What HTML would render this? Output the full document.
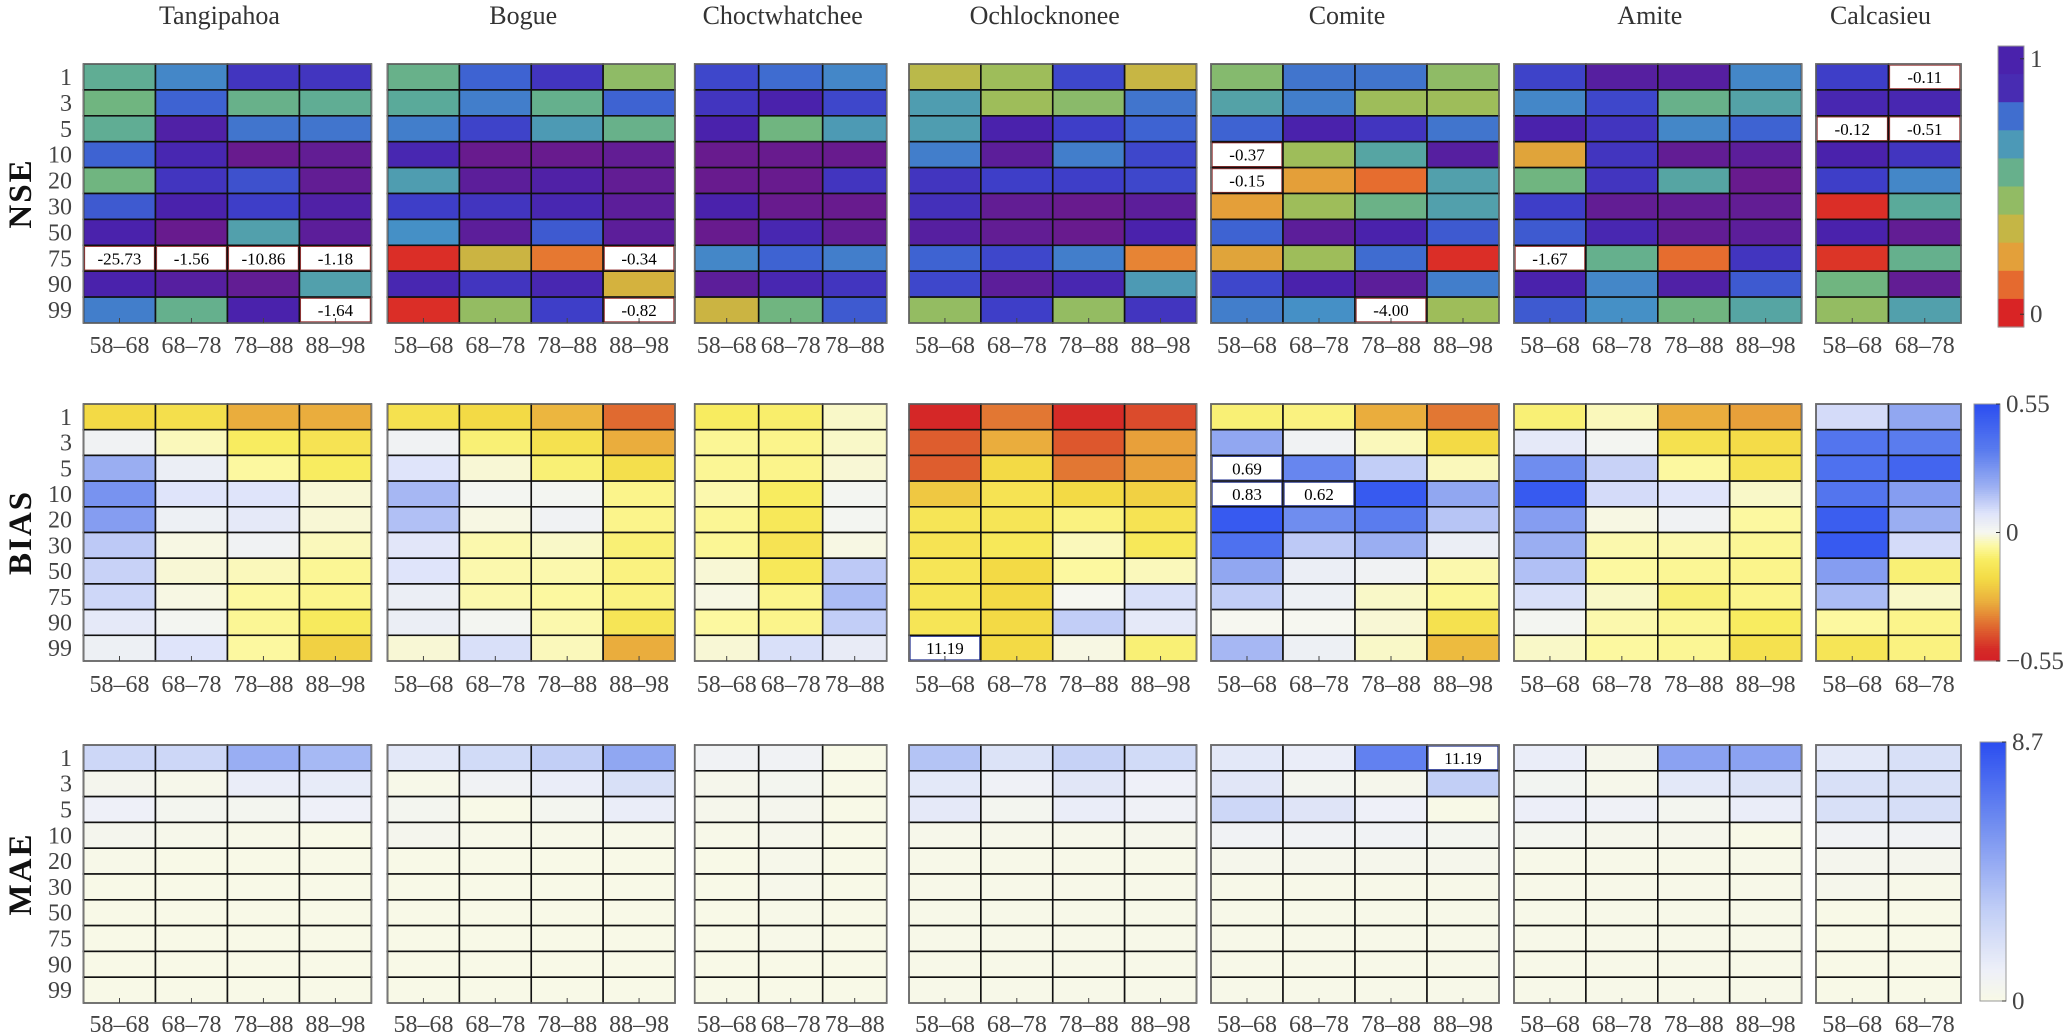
<!DOCTYPE html>
<html><head><meta charset="utf-8"><style>
html,body{margin:0;padding:0;background:#fff;}
svg{display:block;font-family:"Liberation Serif","DejaVu Serif",serif;}
svg text{font-family:"Liberation Serif","DejaVu Serif",serif;}
</style></head><body>
<svg id="chart" width="2067" height="1033" viewBox="0 0 2067 1033" xmlns="http://www.w3.org/2000/svg" font-family="Liberation Serif, DejaVu Serif, serif"></svg>
<script>
const rowLabels = ["1","3","5","10","20","30","50","75","90","99"];
const periods = ["58–68","68–78","78–88","88–98"];
const basins = ["Tangipahoa","Bogue","Choctwhatchee","Ochlocknonee","Comite","Amite","Calcasieu"];
const basinCols = [4,4,3,4,4,4,2];

const nseTangipahoa = [[0.58,0.72,0.9,0.9],[0.52,0.8,0.55,0.58],[0.58,0.95,0.76,0.76],[0.8,0.93,0.99,0.98],[0.52,0.9,0.84,0.98],[0.82,0.94,0.88,0.95],[0.94,0.99,0.64,0.97],[-25.73,-1.56,-10.86,-1.18],[0.94,0.96,0.98,0.64],[0.74,0.56,0.94,-1.64]];
const nseBogue = [[0.55,0.8,0.9,0.45],[0.6,0.74,0.56,0.8],[0.74,0.87,0.66,0.55],[0.93,0.99,0.99,0.98],[0.65,0.97,0.95,0.98],[0.88,0.9,0.93,0.97],[0.7,0.97,0.82,0.97],[0.02,0.32,0.14,-0.34],[0.93,0.9,0.93,0.3],[0.02,0.44,0.88,-0.82]];
const nseChoctwhatchee = [[0.86,0.78,0.72],[0.9,0.94,0.86],[0.94,0.52,0.66],[0.99,0.99,0.99],[0.99,0.99,0.9],[0.94,0.99,0.99],[0.99,0.93,0.98],[0.72,0.8,0.74],[0.97,0.93,0.9],[0.32,0.52,0.82]];
const nseOchlocknonee = [[0.36,0.42,0.86,0.33],[0.65,0.42,0.46,0.76],[0.65,0.94,0.88,0.8],[0.74,0.97,0.74,0.86],[0.9,0.88,0.88,0.86],[0.91,0.98,0.99,0.97],[0.96,0.98,0.99,0.94],[0.8,0.86,0.74,0.16],[0.86,0.97,0.93,0.66],[0.44,0.88,0.44,0.9]];
const nseComite = [[0.47,0.76,0.76,0.45],[0.63,0.74,0.42,0.42],[0.8,0.94,0.9,0.76],[-0.37,0.42,0.62,0.96],[-0.15,0.22,0.12,0.64],[0.22,0.42,0.54,0.64],[0.8,0.97,0.94,0.82],[0.24,0.42,0.78,0.02],[0.86,0.94,0.97,0.74],[0.74,0.7,-4.00,0.42]];
const nseAmite = [[0.87,0.96,0.96,0.72],[0.72,0.86,0.55,0.63],[0.94,0.9,0.72,0.8],[0.24,0.9,0.98,0.97],[0.52,0.9,0.62,0.99],[0.88,0.98,0.98,0.98],[0.82,0.93,0.98,0.97],[-1.67,0.56,0.12,0.9],[0.94,0.72,0.95,0.82],[0.82,0.7,0.52,0.62]];
const nseCalcasieu = [[0.88,-0.11],[0.93,0.93],[-0.12,-0.51],[0.94,0.9],[0.88,0.72],[0.02,0.6],[0.94,0.98],[0.03,0.56],[0.52,0.98],[0.44,0.64]];

const biasTangipahoa = [[-0.2,-0.18,-0.3,-0.3],[0.02,-0.04,-0.12,-0.16],[0.2,0.04,-0.06,-0.12],[0.28,0.08,0.08,-0.02],[0.25,0.03,0.06,-0.02],[0.14,-0.01,0.02,-0.04],[0.12,-0.02,-0.04,-0.07],[0.11,-0.01,-0.06,-0.08],[0.06,0.01,-0.07,-0.13],[0.03,0.08,-0.06,-0.22]];
const biasBogue = [[-0.17,-0.2,-0.28,-0.4],[0.02,-0.1,-0.17,-0.3],[0.08,-0.02,-0.1,-0.18],[0.18,0.01,0.01,-0.08],[0.16,-0.01,0.02,-0.08],[0.07,-0.05,-0.03,-0.1],[0.08,-0.05,-0.05,-0.09],[0.04,-0.05,-0.06,-0.09],[0.04,0.01,-0.05,-0.15],[-0.02,0.09,-0.04,-0.3]];
const biasChoctwhatchee = [[-0.12,-0.11,-0.03],[-0.07,-0.08,-0.03],[-0.07,-0.08,-0.02],[-0.05,-0.12,0.01],[-0.07,-0.14,0.01],[-0.07,-0.16,-0.01],[-0.02,-0.14,0.14],[-0.01,-0.08,0.17],[-0.06,-0.08,0.13],[-0.02,0.09,0.05]];
const biasOchlocknonee = [[-0.52,-0.38,-0.5,-0.45],[-0.42,-0.3,-0.43,-0.32],[-0.42,-0.2,-0.38,-0.32],[-0.24,-0.16,-0.2,-0.22],[-0.15,-0.15,-0.09,-0.16],[-0.16,-0.14,-0.04,-0.14],[-0.15,-0.2,-0.06,-0.04],[-0.15,-0.2,0.0,0.09],[-0.15,-0.2,0.13,0.06],[11.19,-0.2,-0.01,-0.1]];
const biasComite = [[-0.1,-0.09,-0.3,-0.38],[0.22,0.02,-0.04,-0.2],[0.69,0.32,0.13,-0.04],[0.83,0.62,0.5,0.22],[0.5,0.3,0.35,0.15],[0.4,0.14,0.2,0.04],[0.22,0.04,0.02,-0.05],[0.13,0.03,-0.03,-0.07],[0.0,0.0,-0.02,-0.17],[0.18,0.03,-0.03,-0.27]];
const biasAmite = [[-0.1,-0.04,-0.3,-0.32],[0.06,0.01,-0.17,-0.19],[0.3,0.12,-0.06,-0.16],[0.5,0.1,0.08,-0.03],[0.25,-0.01,0.02,-0.06],[0.2,-0.05,-0.05,-0.07],[0.16,-0.06,-0.07,-0.08],[0.09,-0.03,-0.1,-0.08],[0.01,-0.05,-0.07,-0.12],[-0.03,-0.06,-0.07,-0.17]];
const biasCalcasieu = [[0.1,0.22],[0.38,0.35],[0.4,0.45],[0.38,0.25],[0.48,0.2],[0.5,0.1],[0.25,-0.1],[0.17,-0.03],[-0.06,-0.08],[-0.15,-0.09]];

const maeTangipahoa = [[2.5,2.5,4.5,4],[0.4,0.2,1.2,1.3],[1,0.5,0.5,1],[0.4,0.2,0.1,0.05],[0.1,0.05,0.05,0.05],[0.05,0.05,0.05,0.05],[0.05,0.05,0.05,0.05],[0.05,0.05,0.05,0.05],[0.05,0.05,0.05,0.05],[0.05,0.05,0.05,0.05]];
const maeBogue = [[1.5,2.3,3,4.8],[0.1,0.8,1.2,2],[0.5,0.05,0.5,1.2],[0.4,0.1,0.1,0.1],[0.05,0.05,0.05,0.05],[0.05,0.05,0.05,0.05],[0.05,0.05,0.05,0.05],[0.05,0.05,0.05,0.05],[0.05,0.05,0.05,0.05],[0.05,0.05,0.05,0.05]];
const maeChoctwhatchee = [[0.8,0.8,0.05],[0.3,0.5,0.05],[0.3,0.4,0.05],[0.1,0.3,0.05],[0.05,0.2,0.05],[0.05,0.2,0.05],[0.05,0.1,0.05],[0.05,0.1,0.05],[0.05,0.05,0.05],[0.05,0.05,0.05]];
const maeOchlocknonee = [[3.5,1.8,2.8,2.3],[1.5,0.9,1.6,1],[1.4,0.5,1.2,0.9],[0.2,0.2,0.2,0.3],[0.1,0.1,0.1,0.1],[0.1,0.1,0.1,0.1],[0.1,0.1,0.1,0.1],[0.1,0.1,0.1,0.1],[0.1,0.1,0.1,0.1],[0.1,0.1,0.1,0.1]];
const maeComite = [[1.5,1.2,6.5,11.19],[1.6,0.5,0.3,3],[2.5,1.7,1,0.05],[0.8,0.8,0.8,0.5],[0.3,0.3,0.3,0.3],[0.1,0.1,0.1,0.1],[0.1,0.1,0.1,0.1],[0.1,0.1,0.1,0.1],[0.1,0.1,0.1,0.1],[0.1,0.1,0.1,0.1]];
const maeAmite = [[1.2,0.3,5,5],[0.6,0.2,1.5,1.8],[1.1,0.9,0.5,1.2],[0.5,0.3,0.3,0.05],[0.1,0.1,0.1,0.1],[0.1,0.1,0.1,0.1],[0.1,0.1,0.1,0.1],[0.1,0.1,0.1,0.1],[0.1,0.1,0.1,0.1],[0.1,0.1,0.1,0.1]];
const maeCalcasieu = [[1.5,2],[2,2],[2,2.1],[0.8,0.8],[0.4,0.4],[0.3,0.1],[0.05,0.05],[0.05,0.05],[0.05,0.05],[0.05,0.05]];

const nseTicks = ["1","0"];
const biasTicks = ["0.55","0","−0.55"];
const maeTicks = ["8.7","0"];

const NS = "http://www.w3.org/2000/svg";
const FONT = "Liberation Serif, DejaVu Serif, serif";
const svg = document.getElementById("chart");
function mk(tag, attrs, parent){
  const e = document.createElementNS(NS, tag);
  for (const k in attrs) e.setAttribute(k, attrs[k]);
  if (tag === "text") e.setAttribute("font-family", FONT);
  (parent||svg).appendChild(e);
  return e;
}
function hex(c){return [parseInt(c.slice(1,3),16),parseInt(c.slice(3,5),16),parseInt(c.slice(5,7),16)];}
function interp(stops, v){
  if (v <= stops[0][0]) return stops[0][1];
  if (v >= stops[stops.length-1][0]) return stops[stops.length-1][1];
  for (let i=0;i<stops.length-1;i++){
    const a=stops[i], b=stops[i+1];
    if (v>=a[0] && v<=b[0]){
      const t=(v-a[0])/(b[0]-a[0]||1), ca=hex(a[1]), cb=hex(b[1]);
      return "rgb("+ca.map((x,j)=>Math.round(x+(cb[j]-x)*t)).join(",")+")";
    }
  }
}
const nseStops = [[0,"#d82125"],[0.1,"#e5622d"],[0.2,"#e89a38"],[0.3,"#d4b23e"],[0.4,"#a8be52"],[0.5,"#76b87a"],[0.6,"#5aaa9a"],[0.7,"#4590c6"],[0.8,"#3e63d2"],[0.88,"#3e3ec8"],[0.94,"#4a22ac"],[1.0,"#6e1a88"]];
const biasStops = [[-0.55,"#d42027"],[-0.5,"#d52b27"],[-0.4,"#e06a30"],[-0.3,"#eaad3d"],[-0.2,"#f3da45"],[-0.12,"#f8ec60"],[-0.06,"#fcf8a0"],[0,"#f6f7f0"],[0.08,"#dfe4fa"],[0.2,"#9aaef2"],[0.35,"#5a7cee"],[0.55,"#2b4ef0"]];
const maeStops = [[0,"#f8f9e6"],[1,"#eef0f8"],[3,"#c2cff6"],[6,"#6f8cf0"],[8.7,"#2b4ef0"]];

const panelX = [[83.5,371.4],[387.5,675],[694.7,886.7],[909,1196.5],[1211,1499],[1514,1801.6],[1816,1961]];
const metrics = [
  {key:"nse", title:"NSE", top:64, bot:323, tickY:345, stops:nseStops, lo:0, hi:1, data:[nseTangipahoa,nseBogue,nseChoctwhatchee,nseOchlocknonee,nseComite,nseAmite,nseCalcasieu], outBorder:"#8b1a1a"},
  {key:"bias", title:"BIAS", top:404, bot:661, tickY:684, stops:biasStops, lo:-0.55, hi:0.55, data:[biasTangipahoa,biasBogue,biasChoctwhatchee,biasOchlocknonee,biasComite,biasAmite,biasCalcasieu], outBorder:"#1a2a8b"},
  {key:"mae", title:"MAE", top:745, bot:1003, tickY:1024, stops:maeStops, lo:0, hi:8.7, data:[maeTangipahoa,maeBogue,maeChoctwhatchee,maeOchlocknonee,maeComite,maeAmite,maeCalcasieu], outBorder:"#1a2a8b"}
];

basins.forEach((b,i)=>{
  const t = mk("text",{x:(panelX[i][0]+panelX[i][1])/2 - 8, y:24, "text-anchor":"middle", "font-size":26, fill:"#333"});
  t.textContent = b;
  
  
});

metrics.forEach(m=>{
  const g = mk("g",{});
  
  
  const rowH = (m.bot - m.top)/rowLabels.length;
  const cy = (m.top+m.bot)/2;
  const ml = mk("text",{x:0,y:0,transform:"translate(31,"+cy+") rotate(-90)","text-anchor":"middle","font-size":33,"font-weight":"bold",fill:"#111","letter-spacing":"2"},g);
  ml.textContent = m.title;
  
  
  rowLabels.forEach((r,ri)=>{
    const t = mk("text",{x:72,y:m.top+rowH*(ri+0.5)+8,"text-anchor":"end","font-size":24,fill:"#444"},g);
    t.textContent = r;
    
    
  });
  m.data.forEach((grid,bi)=>{
    const x0 = panelX[bi][0], x1 = panelX[bi][1];
    const nc = basinCols[bi];
    const cw = (x1-x0)/nc;
    const pg = mk("g",{},g);
    
    
    grid.forEach((row,ri)=>{
      row.forEach((v,ci)=>{
        const out = v < m.lo || v > m.hi;
        const fill = out ? "#ffffff" : interp(m.stops, v);
        const r = mk("rect",{x:x0+ci*cw, y:m.top+ri*rowH, width:cw, height:rowH, fill:fill, stroke:"#111","stroke-width":1.6},pg);
        
        
        if (out){
          const rr = mk("rect",{x:x0+ci*cw+1.2, y:m.top+ri*rowH+1.2, width:cw-2.4, height:rowH-2.4, fill:"none", stroke:m.outBorder,"stroke-width":0.8},pg);
          
          
          const t = mk("text",{x:x0+(ci+0.5)*cw, y:m.top+(ri+0.5)*rowH+6,"text-anchor":"middle","font-size":17,fill:"#000"},pg);
          t.textContent = v.toFixed(2);
          
          
        }
      });
    });
    mk("rect",{x:x0,y:m.top,width:x1-x0,height:m.bot-m.top,fill:"none",stroke:"#777","stroke-width":1.2},pg);
    for (let ci=0; ci<nc; ci++){
      const cx = x0+(ci+0.5)*cw;
      mk("line",{x1:cx,x2:cx,y1:m.bot,y2:m.bot-5,stroke:"#444","stroke-width":1},pg);
      const t = mk("text",{x:cx,y:m.tickY+8,"text-anchor":"middle","font-size":24,fill:"#444"},pg);
      t.textContent = periods[ci];
      
      
    }
  });
});

function colorbar(name, x, y0, y1, stops, lo, hi, ticks, tickVals, discrete){
  const g = mk("g",{});
  
  
  const n = discrete ? 10 : 120;
  const h = (y1-y0)/n;
  for (let i=0;i<n;i++){
    const v = hi - (i+0.5)*(hi-lo)/n;
    mk("rect",{x:x, y:y0+i*h, width:26, height:h+0.6, fill:interp(stops,v)},g);
  }
  mk("rect",{x:x,y:y0,width:26,height:y1-y0,fill:"none",stroke:"#999","stroke-width":1},g);
  ticks.forEach((tk,i)=>{
    const y = y0 + (hi-tickVals[i])/(hi-lo)*(y1-y0);
    mk("line",{x1:x+26,x2:x+22,y1:y,y2:y,stroke:"#333"},g);
    const t = mk("text",{x:x+32,y:y+8,"font-size":25,fill:"#444"},g);
    t.textContent = tk;
    
    
  });
}
colorbar("nse-colorbar",1998,46,327,[[0,"#d82125"],[0.1,"#e5622d"],[0.2,"#e89a38"],[0.3,"#d4b23e"],[0.4,"#a8be52"],[0.5,"#76b87a"],[0.6,"#5aaa9a"],[0.7,"#4590c6"],[0.8,"#3e63d2"],[0.9,"#4a22ac"]],-0.05,1.05,nseTicks,[1,0],true);
colorbar("bias-colorbar",1974,404,661,biasStops,-0.55,0.55,biasTicks,[0.55,0,-0.55],false);
colorbar("mae-colorbar",1980,742,1001,maeStops,0,8.7,maeTicks,[8.7,0],false);
</script>
</body></html>
